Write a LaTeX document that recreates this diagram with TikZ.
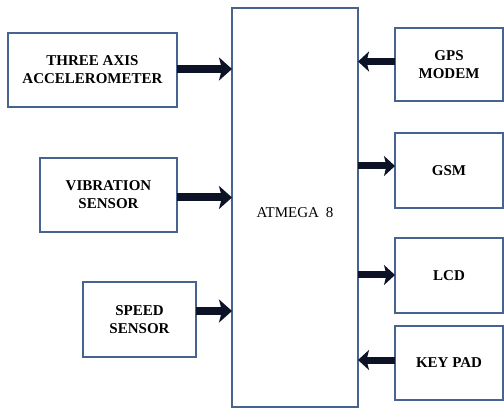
\documentclass[tikz,border=0pt]{standalone}
\usepackage{fontspec}
\setmainfont{Liberation Serif}
\usetikzlibrary{arrows.meta}
\definecolor{boxline}{HTML}{46648F}
\definecolor{arrowfill}{HTML}{0D1326}
\tikzset{
  blk/.style={draw=boxline, line width=1.8pt, fill=white, inner sep=0pt, outer sep=0pt,
    align=center, font=\bfseries\fontsize{15}{18}\selectfont, text=black},
  arrL/.style={draw=arrowfill, line width=8pt, -{Stealth[width=23pt,length=13pt,inset=3pt]}},
  arrR/.style={draw=arrowfill, line width=7pt, -{Stealth[width=20pt,length=11pt,inset=2.5pt]}}
}
\begin{document}
\begin{tikzpicture}[x=1pt,y=-1pt]
\useasboundingbox (0,0) rectangle (504,409);
\fill[white] (0,0) rectangle (504,409);
% main controller
\node[blk, minimum width=126pt, minimum height=399pt] (mcu) at (295,207.5) {};
\node[font=\fontsize{15}{18}\selectfont] (mcutxt) at (295,213) {ATMEGA\hspace{7pt}8};
% left blocks
\node[blk, minimum width=169pt, minimum height=74pt] (tax) at (92.5,70) {THREE AXIS\\ACCELEROMETER};
\node[blk, minimum width=137pt, minimum height=74pt] (vib) at (108.5,195) {VIBRATION\\SENSOR};
\node[blk, minimum width=113pt, minimum height=75pt] (spd) at (139.5,319.5) {SPEED\\SENSOR};
% right blocks
\node[blk, minimum width=108pt, minimum height=73pt] (gps) at (449,64.5) {GPS\\MODEM};
\node[blk, minimum width=108pt, minimum height=75pt] (gsm) at (449,170.5) {GSM};
\node[blk, minimum width=108pt, minimum height=75pt] (lcd) at (449,275.5) {LCD};
\node[blk, minimum width=108pt, minimum height=74pt] (key) at (449,363) {KEY PAD};
% arrow levels
\coordinate (y1) at (0,69);
\coordinate (y2) at (0,197.5);
\coordinate (y3) at (0,311);
\coordinate (y4) at (0,61.5);
\coordinate (y5) at (0,166);
\coordinate (y6) at (0,275);
\coordinate (y7) at (0,360);
% connectors
\draw[arrL] (tax.east |- y1) -- (mcu.west |- y1);
\draw[arrL] (vib.east |- y2) -- (mcu.west |- y2);
\draw[arrL] (spd.east |- y3) -- (mcu.west |- y3);
\draw[arrR] (gps.west |- y4) -- (mcu.east |- y4);
\draw[arrR] (mcu.east |- y5) -- (gsm.west |- y5);
\draw[arrR] (mcu.east |- y6) -- (lcd.west |- y6);
\draw[arrR] (key.west |- y7) -- (mcu.east |- y7);
\end{tikzpicture}
\end{document}
